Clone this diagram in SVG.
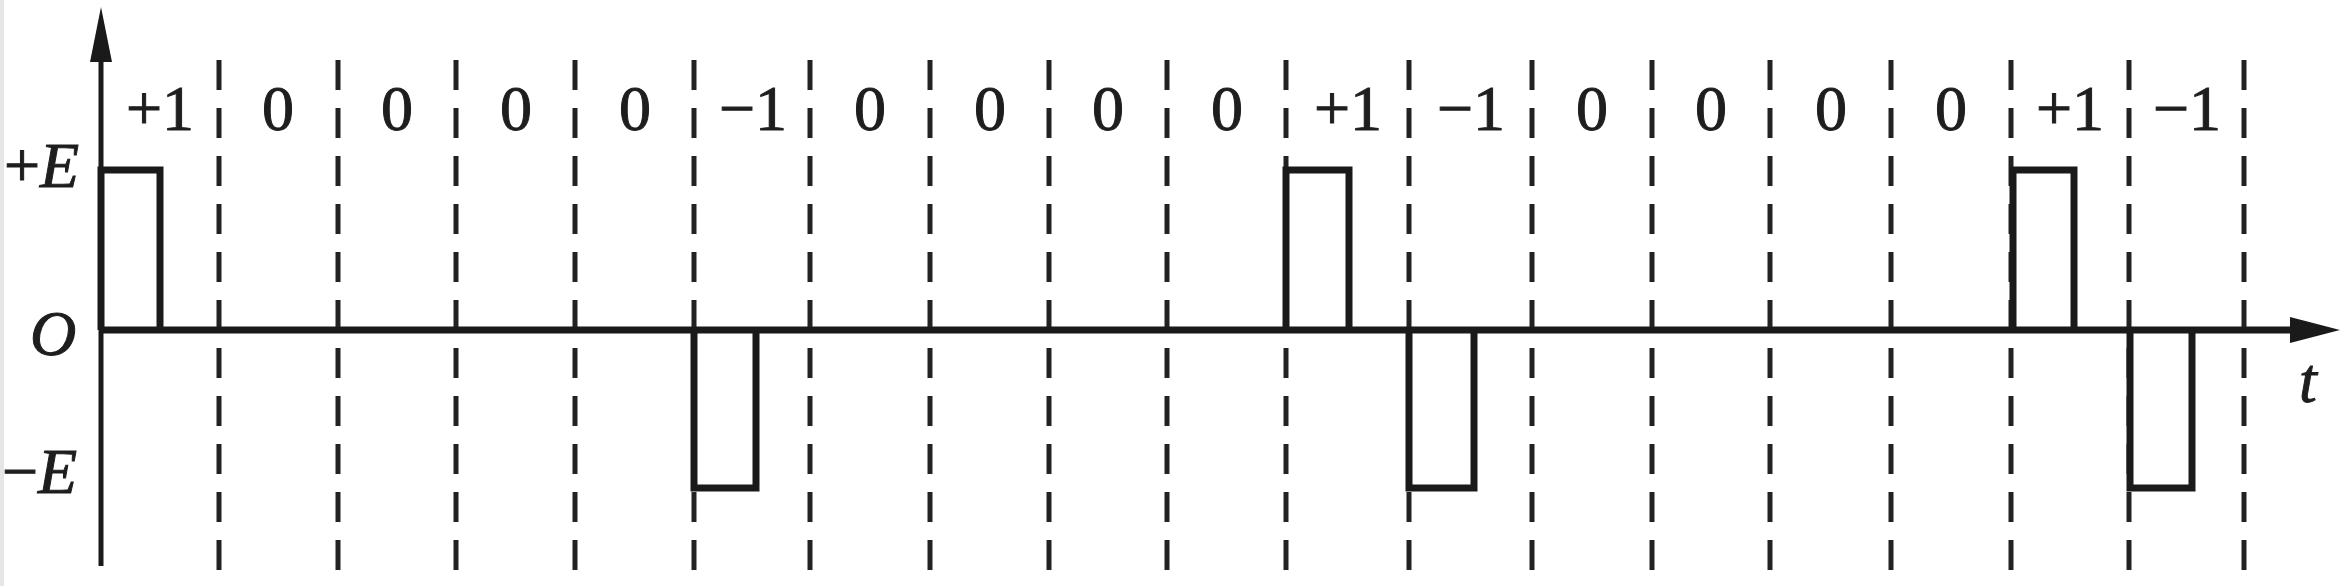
<svg xmlns="http://www.w3.org/2000/svg" width="2346" height="586" viewBox="0 0 2346 586">
<defs>
<style>
.lbl{font-family:"Liberation Serif","Times New Roman",serif;font-size:64px;fill:#1e1e1e;stroke:#1e1e1e;stroke-width:1;text-anchor:middle}
.ax{font-family:"Liberation Serif","Times New Roman",serif;font-size:64px;fill:#1e1e1e;stroke:#1e1e1e;stroke-width:1}
.it{font-style:italic}
.dash{stroke:#222;stroke-width:5;stroke-dasharray:30 18;fill:none}
.axis{stroke:#1a1a1a;stroke-width:5;fill:none}
.wave{stroke:#1a1a1a;stroke-width:7;fill:none;stroke-linejoin:miter}
</style>
</defs>
<rect width="2346" height="586" fill="#ffffff"/>
<rect x="0" y="0" width="4" height="586" fill="#e6e6e6"/>
<g id="grid">
<line class="dash" x1="219" y1="60" x2="219" y2="572"/>
<line class="dash" x1="338" y1="60" x2="338" y2="572"/>
<line class="dash" x1="456" y1="60" x2="456" y2="572"/>
<line class="dash" x1="575" y1="60" x2="575" y2="572"/>
<line class="dash" x1="694" y1="60" x2="694" y2="572"/>
<line class="dash" x1="810" y1="60" x2="810" y2="572"/>
<line class="dash" x1="930" y1="60" x2="930" y2="572"/>
<line class="dash" x1="1049" y1="60" x2="1049" y2="572"/>
<line class="dash" x1="1167" y1="60" x2="1167" y2="572"/>
<line class="dash" x1="1286" y1="60" x2="1286" y2="572"/>
<line class="dash" x1="1409" y1="60" x2="1409" y2="572"/>
<line class="dash" x1="1532" y1="60" x2="1532" y2="572"/>
<line class="dash" x1="1652" y1="60" x2="1652" y2="572"/>
<line class="dash" x1="1770" y1="60" x2="1770" y2="572"/>
<line class="dash" x1="1891" y1="60" x2="1891" y2="572"/>
<line class="dash" x1="2011" y1="60" x2="2011" y2="572"/>
<line class="dash" x1="2129" y1="60" x2="2129" y2="572"/>
<line class="dash" x1="2244" y1="60" x2="2244" y2="572"/>
</g>
<g id="axes">
<line class="axis" x1="101" y1="566" x2="101" y2="55"/>
<polygon points="101,7 90,62 112,62" fill="#1a1a1a"/>
<line class="wave" x1="100" y1="330" x2="2295" y2="330"/>
<polygon points="2340,330 2290,317 2290,343" fill="#1a1a1a"/>
</g>
<g id="waveform">
<path class="wave" d="M101,330 V170 H160 V330 M694,330 V488 H756 V330 M1286,330 V170 H1349 V330 M1409,330 V488 H1474 V330 M2013,330 V170 H2074 V330 M2130,330 V488 H2192 V330"/>
</g>
<g id="axis-labels">
<text class="ax" x="4" y="187">+<tspan class="it">E</tspan></text>
<text class="ax it" x="30" y="355">O</text>
<text class="ax" x="2" y="493">−<tspan class="it">E</tspan></text>
<text class="ax it" x="2299" y="402" font-size="56">t</text>
</g>
<g id="bit-labels">
<text class="lbl" x="160" y="130">+1</text>
<text class="lbl" x="278" y="130">0</text>
<text class="lbl" x="397" y="130">0</text>
<text class="lbl" x="516" y="130">0</text>
<text class="lbl" x="635" y="130">0</text>
<text class="lbl" x="753" y="130">−1</text>
<text class="lbl" x="870" y="130">0</text>
<text class="lbl" x="990" y="130">0</text>
<text class="lbl" x="1108" y="130">0</text>
<text class="lbl" x="1227" y="130">0</text>
<text class="lbl" x="1348" y="130">+1</text>
<text class="lbl" x="1471" y="130">−1</text>
<text class="lbl" x="1592" y="130">0</text>
<text class="lbl" x="1711" y="130">0</text>
<text class="lbl" x="1831" y="130">0</text>
<text class="lbl" x="1951" y="130">0</text>
<text class="lbl" x="2070" y="130">+1</text>
<text class="lbl" x="2187" y="130">−1</text>
</g>
</svg>
